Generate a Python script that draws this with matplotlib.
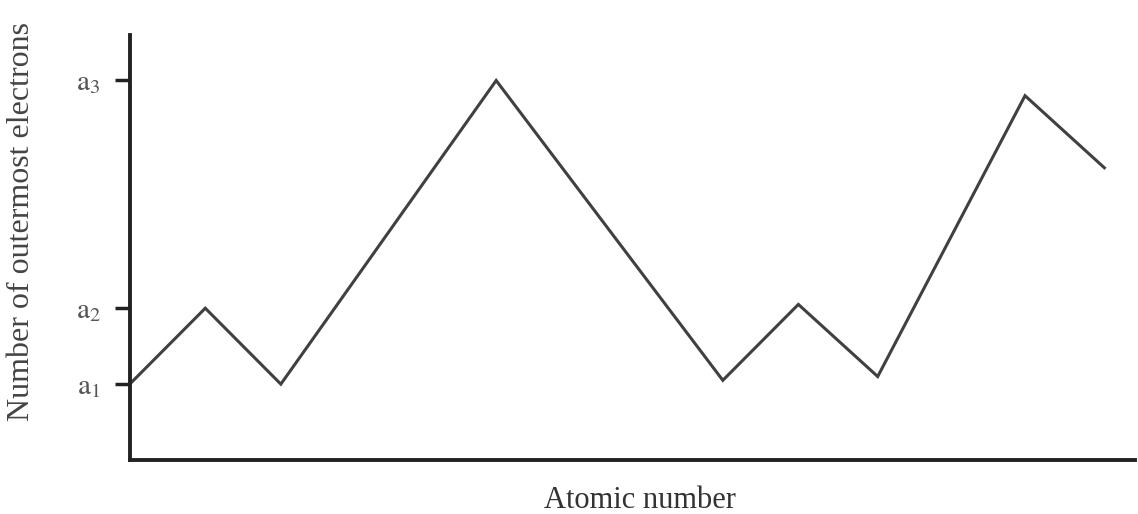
import matplotlib.pyplot as plt

plt.rcParams['font.family'] = ['Liberation Serif', 'DejaVu Serif']
plt.rcParams['mathtext.fontset'] = 'stix'

# (x in element steps, y in units where a1=1, a2=2, a3=5)
atomic_number = [0, 1, 2, 4.85, 7.85, 8.85, 9.9, 11.85, 12.9]
outer_electrons = [1, 2, 1, 5, 1.05, 2.05, 1.1, 4.8, 3.85]
tick_vals = [1, 2, 5]
tick_labels = [r'$\mathrm{a}_1$', r'$\mathrm{a}_2$', r'$\mathrm{a}_3$']

fig = plt.figure(figsize=(11.38, 5.14), dpi=100)
ax = fig.add_axes([0.114, 0.105, 0.883, 0.827])

ax.plot(atomic_number, outer_electrons, color='#404040', lw=2.2, solid_joinstyle='miter')

ax.set_xlim(0, 13.3)
ax.set_ylim(0, 5.6)
ax.spines['top'].set_visible(False)
ax.spines['right'].set_visible(False)
for s in ['left', 'bottom']:
    ax.spines[s].set_linewidth(2.8)
    ax.spines[s].set_color('#222222')

ax.set_xticks([])
ax.set_yticks(tick_vals)
ax.set_yticklabels(tick_labels, fontsize=21, color='#555555')
ax.tick_params(axis='y', length=11, width=2.5, color='#222222', pad=10)

ax.set_xlabel('Atomic number', fontsize=22, color='#333333')
ax.xaxis.set_label_coords(0.508, -0.06)
ax.xaxis.label.set_va('top')
ax.set_ylabel('Number of outermost electrons', fontsize=23, color='#444444')
ax.yaxis.set_label_coords(-0.093, 0.562)

fig.savefig('out.png', dpi=100)
